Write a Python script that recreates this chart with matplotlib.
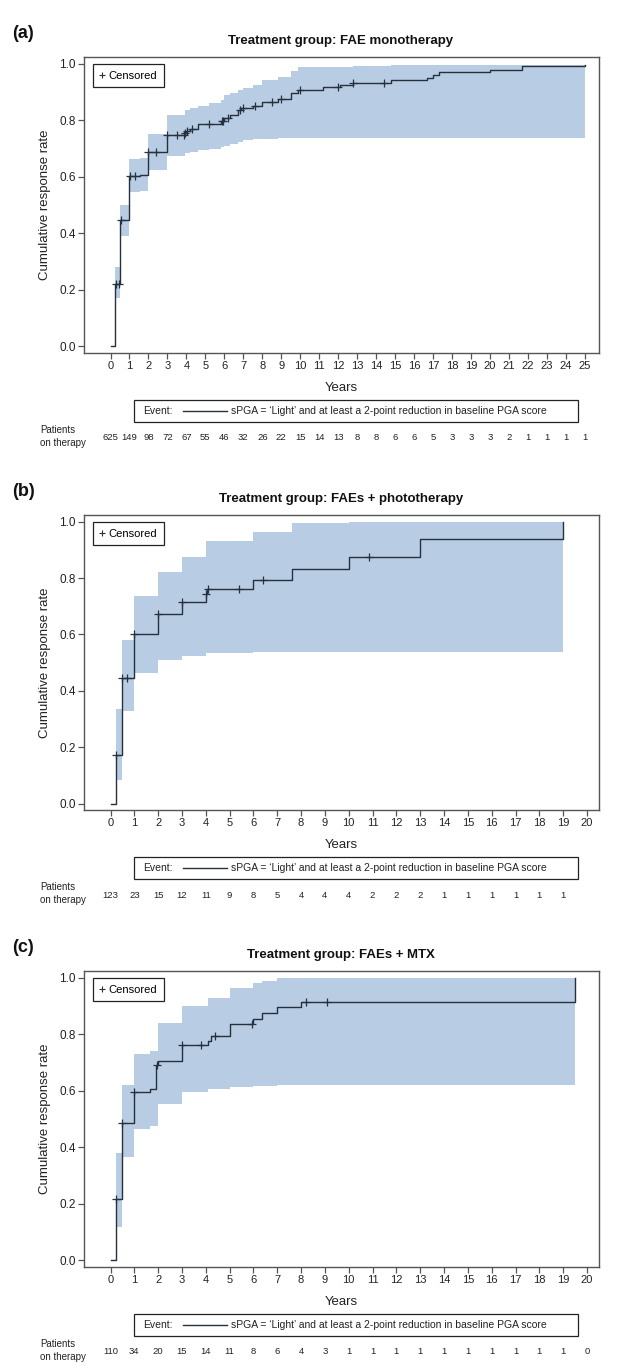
import numpy as np
import matplotlib
matplotlib.use("Agg")
import matplotlib.pyplot as plt
from matplotlib.lines import Line2D
from matplotlib.patches import Rectangle
import matplotlib.transforms as mtransforms

plt.rcParams['font.family'] = ['Liberation Sans', 'DejaVu Sans']

# ---- panel (a): FAE monotherapy ----
a_times = [0.05, 0.25, 0.5, 1.0, 1.55, 2.0, 3.0, 3.9, 4.0, 4.2, 4.6, 5.8, 6.0, 6.3, 6.7, 6.9,
           7.5, 8.0, 8.8, 9.5, 9.9, 11.2, 12.1, 12.8, 14.8, 16.7, 17.0, 17.3, 20.0, 21.7, 25.0]
a_resp = [0.0, 0.222, 0.446, 0.602, 0.608, 0.688, 0.749, 0.755, 0.762, 0.770, 0.786, 0.797,
          0.808, 0.818, 0.835, 0.845, 0.852, 0.866, 0.876, 0.895, 0.908, 0.917, 0.926, 0.933,
          0.941, 0.949, 0.961, 0.972, 0.979, 0.991, 0.995]
a_cens = [0.28, 0.45, 0.55, 1.05, 1.3, 2.0, 2.4, 3.0, 3.5, 3.85, 3.95, 4.05, 4.3, 5.2,
          5.85, 5.95, 6.2, 6.8, 7.0, 7.6, 8.5, 9.0, 10.0, 12.0, 12.8, 14.4]
a_ci_t = [0.25, 0.5, 1.0, 1.55, 2.0, 3.0, 3.9, 4.2, 4.6, 5.2, 5.8, 6.0, 6.3, 6.7, 7.0, 7.5,
          8.0, 8.8, 9.5, 9.9, 11.2, 12.8, 14.8, 25.0]
a_ci_lo = [0.17, 0.39, 0.545, 0.55, 0.625, 0.675, 0.683, 0.688, 0.695, 0.70, 0.705, 0.71,
           0.717, 0.725, 0.73, 0.733, 0.735, 0.737, 0.738, 0.739, 0.739, 0.739, 0.739, 0.739]
a_ci_hi = [0.28, 0.50, 0.662, 0.668, 0.75, 0.82, 0.837, 0.845, 0.851, 0.86, 0.873, 0.89,
           0.898, 0.908, 0.915, 0.925, 0.943, 0.955, 0.975, 0.987, 0.99, 0.993, 0.997, 0.997]
a_risk = [625, 149, 98, 72, 67, 55, 46, 32, 26, 22, 15, 14, 13, 8, 8, 6, 6, 5, 3, 3, 3, 2,
          1, 1, 1, 1]

# ---- panel (b): FAEs + phototherapy ----
b_times = [0.0, 0.22, 0.5, 1.0, 2.0, 3.0, 4.0, 4.05, 6.0, 7.6, 10.0, 13.0, 19.0]
b_resp = [0.0, 0.172, 0.444, 0.600, 0.672, 0.716, 0.745, 0.760, 0.793, 0.834, 0.876, 0.938, 1.0]
b_cens = [0.22, 0.5, 0.7, 1.0, 2.0, 3.0, 4.0, 4.1, 5.4, 6.4, 10.85]
b_ci_t = [0.22, 0.5, 1.0, 2.0, 3.0, 4.0, 6.0, 7.6, 10.0, 19.0]
b_ci_lo = [0.083, 0.33, 0.465, 0.51, 0.525, 0.535, 0.537, 0.538, 0.538, 0.538]
b_ci_hi = [0.335, 0.58, 0.735, 0.82, 0.875, 0.93, 0.962, 0.995, 1.0, 1.0]
b_risk = [123, 23, 15, 12, 11, 9, 8, 5, 4, 4, 4, 2, 2, 2, 1, 1, 1, 1, 1, 1]

# ---- panel (c): FAEs + MTX ----
c_times = [0.0, 0.24, 0.5, 1.0, 1.65, 1.92, 2.0, 3.0, 4.1, 4.2, 5.0, 6.0, 6.35, 7.0, 8.0, 19.5]
c_resp = [0.0, 0.217, 0.485, 0.596, 0.605, 0.690, 0.705, 0.764, 0.778, 0.795, 0.835, 0.853,
          0.875, 0.896, 0.914, 1.0]
c_cens = [0.24, 0.5, 1.0, 1.95, 3.0, 3.8, 4.4, 5.95, 8.2, 9.1]
c_ci_t = [0.24, 0.5, 1.0, 1.65, 2.0, 3.0, 4.1, 5.0, 6.0, 6.35, 7.0, 8.0, 19.5]
c_ci_lo = [0.12, 0.365, 0.465, 0.475, 0.555, 0.595, 0.605, 0.612, 0.617, 0.617, 0.619,
           0.619, 0.619]
c_ci_hi = [0.38, 0.62, 0.73, 0.74, 0.84, 0.90, 0.93, 0.965, 0.98, 0.99, 0.998, 1.0, 1.0]
c_risk = [110, 34, 20, 15, 14, 11, 8, 6, 4, 3, 1, 1, 1, 1, 1, 1, 1, 1, 1, 1, 0]

titles = ["Treatment group: FAE monotherapy",
          "Treatment group: FAEs + phototherapy",
          "Treatment group: FAEs + MTX"]
letters = ["(a)", "(b)", "(c)"]
event_text = "sPGA = \u2018Light\u2019 and at least a 2-point reduction in baseline PGA score"

W, H = 630, 1370
BAND = '#b8cce4'
LINE = '#27313d'
FRAME = '#555555'
TXT = '#222222'


def fx(px):
    return px / W


def fy(py):
    return 1 - py / H


def draw_panel(fig, top, bottom, xmax, times, resp, cens, ci_t, ci_lo, ci_hi, risk,
               title, letter):
    left, right = 84, 599
    ax = fig.add_axes([fx(left), fy(bottom), fx(right - left), (bottom - top) / H])
    x0 = 110.5
    x_end = 585 if xmax == 25 else 587
    ppy = (x_end - x0) / xmax
    ax.set_xlim((left - x0) / ppy, (right - x0) / ppy)
    ax.set_ylim(-0.023, 1.024)

    ax.fill_between(ci_t, ci_lo, ci_hi, step='post', color=BAND, lw=0, zorder=1)
    ax.step(times, resp, where='post', color=LINE, lw=1.0, zorder=3)
    t = np.asarray(times)
    r = np.asarray(resp)
    cv = r[np.searchsorted(t, cens, side='right') - 1]
    ax.plot(cens, cv, ls='none', marker='+', ms=6, mew=0.9, color=LINE, zorder=4)

    ax.set_xticks(range(0, xmax + 1))
    ax.set_yticks([0, 0.2, 0.4, 0.6, 0.8, 1.0])
    ax.set_yticklabels(['0.0', '0.2', '0.4', '0.6', '0.8', '1.0'])
    ax.tick_params(direction='out', length=4, width=0.9, color=FRAME, labelcolor=TXT,
                   labelsize=8.5, pad=2)
    ax.tick_params(axis='x', labelsize=8)
    for s in ax.spines.values():
        s.set_color(FRAME)
        s.set_linewidth(1.0)
    ax.set_ylabel('Cumulative response rate', fontsize=9.5, color=TXT, labelpad=6)

    handle = Line2D([], [], ls='none', marker='+', ms=4.5, mew=0.8, color=LINE)
    leg = ax.legend([handle], ['Censored'], loc='upper left', fontsize=8,
                    handlelength=0.5, handletextpad=0.3, borderpad=0.6,
                    borderaxespad=0, fancybox=False, edgecolor='#222222', framealpha=1,
                    bbox_to_anchor=(0.0175, 0.976))
    leg.get_frame().set_linewidth(0.9)

    # panel letter and title
    fig.text(fx(12), fy(top - 24), letter, fontsize=13, fontweight='bold',
             ha='left', va='center', color='#111111')
    fig.text(fx(341), fy(top - 16), title, fontsize=9.5, fontweight='bold',
             ha='center', va='center', color='#111111')

    # x label
    fig.text(fx(341), fy(bottom + 35), 'Years', fontsize=9.5, ha='center', va='center',
             color=TXT)

    # event legend box
    bt, bb = bottom + 47, bottom + 69
    fig.add_artist(Rectangle((fx(134), fy(bb)), fx(578 - 134), (bb - bt) / H,
                             transform=fig.transFigure, fill=False, ec='#222222', lw=0.9))
    yc = fy((bt + bb) / 2)
    fig.text(fx(143), yc, 'Event:', fontsize=7.5, ha='left', va='center', color=TXT)
    fig.add_artist(Line2D([fx(183), fx(227)], [yc, yc], transform=fig.transFigure,
                          color=LINE, lw=1.0))
    fig.text(fx(231), yc, event_text, fontsize=7.5, ha='left', va='center', color=TXT)

    # patients on therapy row
    fig.text(fx(40), fy(bottom + 77), 'Patients', fontsize=7, ha='left', va='center',
             color=TXT)
    fig.text(fx(40), fy(bottom + 90), 'on therapy', fontsize=7, ha='left', va='center',
             color=TXT)
    trans = mtransforms.blended_transform_factory(ax.transData, fig.transFigure)
    for i, n in enumerate(risk):
        ax.text(i, fy(bottom + 85), str(n), transform=trans, fontsize=6.8,
                ha='center', va='center', color=TXT, clip_on=False)
    return ax


fig = plt.figure(figsize=(6.3, 13.7), dpi=100)
draw_panel(fig, 57, 353, 25, a_times, a_resp, a_cens, a_ci_t, a_ci_lo, a_ci_hi, a_risk,
           titles[0], letters[0])
draw_panel(fig, 515, 810, 20, b_times, b_resp, b_cens, b_ci_t, b_ci_lo, b_ci_hi, b_risk,
           titles[1], letters[1])
draw_panel(fig, 971, 1267, 20, c_times, c_resp, c_cens, c_ci_t, c_ci_lo, c_ci_hi, c_risk,
           titles[2], letters[2])
fig.savefig('out.png', dpi=100)
